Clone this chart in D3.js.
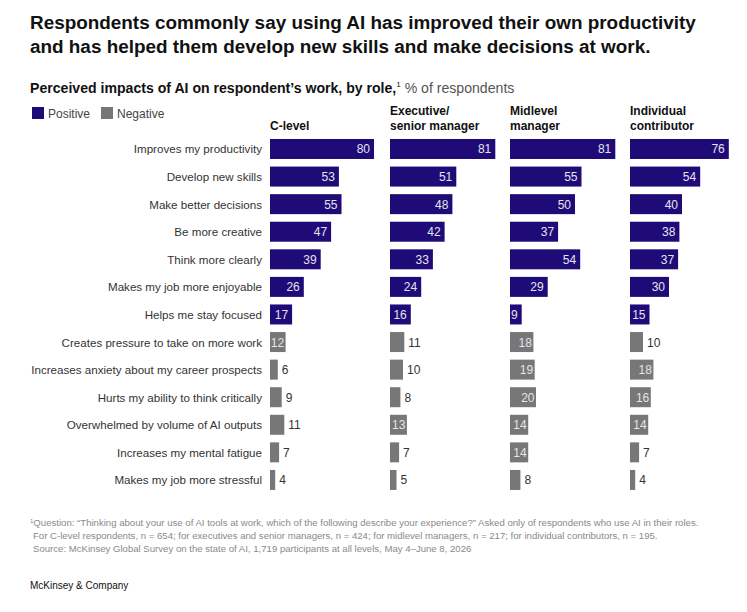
<!DOCTYPE html>
<html><head><meta charset="utf-8">
<script src="https://cdn.jsdelivr.net/npm/d3@7"></script>
<style>
body{margin:0;background:#fff;}
svg{font-family:"Liberation Sans",Arial,sans-serif;}
</style></head>
<body><svg id="c" width="747" height="612"></svg>
<script>
const categories = ["Improves my productivity","Develop new skills","Make better decisions","Be more creative","Think more clearly","Makes my job more enjoyable","Helps me stay focused","Creates pressure to take on more work","Increases anxiety about my career prospects","Hurts my ability to think critically","Overwhelmed by volume of AI outputs","Increases my mental fatigue","Makes my job more stressful"];
const impactType = ["Positive","Positive","Positive","Positive","Positive","Positive","Positive","Negative","Negative","Negative","Negative","Negative","Negative"];
const roles = ["C-level","Executive/\nsenior manager","Midlevel\nmanager","Individual\ncontributor"];
const cLevel     = [80,53,55,47,39,26,17,12,6,9,11,7,4];
const executive  = [81,51,48,42,33,24,16,11,10,8,13,7,5];
const midlevel   = [81,55,50,37,54,29,9,18,19,20,14,14,8];
const individual = [76,54,40,38,37,30,15,10,18,16,14,7,4];
const seriesByRole = [cLevel, executive, midlevel, individual];
const legendItems = ["Positive","Negative"];

const colors = {Positive:"#1f0b78", Negative:"#777777"};
const svg = d3.select("#c");

// Title
svg.append("text").attr("x",30).attr("y",29).attr("font-size",18.9).attr("font-weight",700).attr("fill","#111")
  .text("Respondents commonly say using AI has improved their own productivity");
svg.append("text").attr("x",30).attr("y",53).attr("font-size",18.9).attr("font-weight",700).attr("fill","#111")
  .text("and has helped them develop new skills and make decisions at work.");

// Subtitle
const sub = svg.append("text").attr("x",30).attr("y",93).attr("font-size",14.1).attr("fill","#111");
sub.append("tspan").attr("font-weight",700).text("Perceived impacts of AI on respondent’s work, by role,");
sub.append("tspan").attr("font-size",8).attr("dy",-6).text("1");
sub.append("tspan").attr("dy",6).attr("fill","#555").text(" % of respondents");

// Legend
const lg = svg.append("g");
const legX = d3.scaleOrdinal().domain(legendItems).range([32,101]);
legendItems.forEach(k=>{
  lg.append("rect").attr("x",legX(k)).attr("y",107).attr("width",12).attr("height",12).attr("fill",colors[k]);
  lg.append("text").attr("x",legX(k)+16).attr("y",118).attr("font-size",12).attr("fill","#444").text(k);
});

// Scales
const y = d3.scaleBand().domain(categories).range([135.2, 135.2+13*27.58]).paddingInner(0.275).paddingOuter(0.1375);
const col = d3.scaleBand().domain(roles).range([270,750]);
const x = d3.scaleLinear().domain([0,100]).range([0,130]);

// Category labels
svg.append("g").selectAll("text").data(categories).join("text")
  .attr("x",262).attr("y",d=>y(d)+y.bandwidth()/2+4.5)
  .attr("text-anchor","end").attr("font-size",11.6).attr("fill","#333").text(d=>d);

roles.forEach((r,ri)=>{
  const g = svg.append("g").attr("transform",`translate(${col(r)},0)`);
  const lines = r.split("\n");
  const hdr = g.append("text").attr("font-size",12).attr("font-weight",700).attr("fill","#111");
  lines.forEach((l,i)=>{
    hdr.append("tspan").attr("x",0).attr("y",130 - (lines.length-1-i)*15).text(l);
  });
  const vals = seriesByRole[ri];
  const rows = categories.map((c,i)=>({c, v:vals[i], t:impactType[i]}));
  g.selectAll("rect").data(rows).join("rect")
    .attr("x",0).attr("y",d=>y(d.c)).attr("width",d=>x(d.v)).attr("height",y.bandwidth())
    .attr("fill",d=>colors[d.t]);
  g.selectAll("text.v").data(rows).join("text").attr("class","v")
    .attr("font-size",12)
    .attr("y",d=>y(d.c)+y.bandwidth()/2+4.5)
    .text(d=>d.v)
    .each(function(d){
      const w = this.getComputedTextLength();
      const inside = d.t==="Positive" || (d.v >= 10 && w + 2 <= x(d.v));
      d3.select(this)
        .attr("x", inside ? x(d.v)-(d.t==="Positive"?4:1.5) : x(d.v)+4)
        .attr("text-anchor", inside ? "end" : "start")
        .attr("fill", inside ? "#e4e4ee" : "#333");
    });
});

// Footnotes
const fn = svg.append("g").attr("font-size",9.6).attr("fill","#8a8a8a");
const f1 = fn.append("text").attr("x",30).attr("y",526);
f1.append("tspan").attr("font-size",6).attr("dy",-3).text("1");
f1.append("tspan").attr("dy",3).text("Question: “Thinking about your use of AI tools at work, which of the following describe your experience?” Asked only of respondents who use AI in their roles.");
fn.append("text").attr("x",33).attr("y",539).text("For C-level respondents, n = 654; for executives and senior managers, n = 424; for midlevel managers, n = 217; for individual contributors, n = 195.");
fn.append("text").attr("x",33).attr("y",552).text("Source: McKinsey Global Survey on the state of AI, 1,719 participants at all levels, May 4–June 8, 2026");

svg.append("text").attr("x",30).attr("y",589).attr("font-size",10).attr("fill","#111").text("McKinsey & Company");
</script></body></html>
